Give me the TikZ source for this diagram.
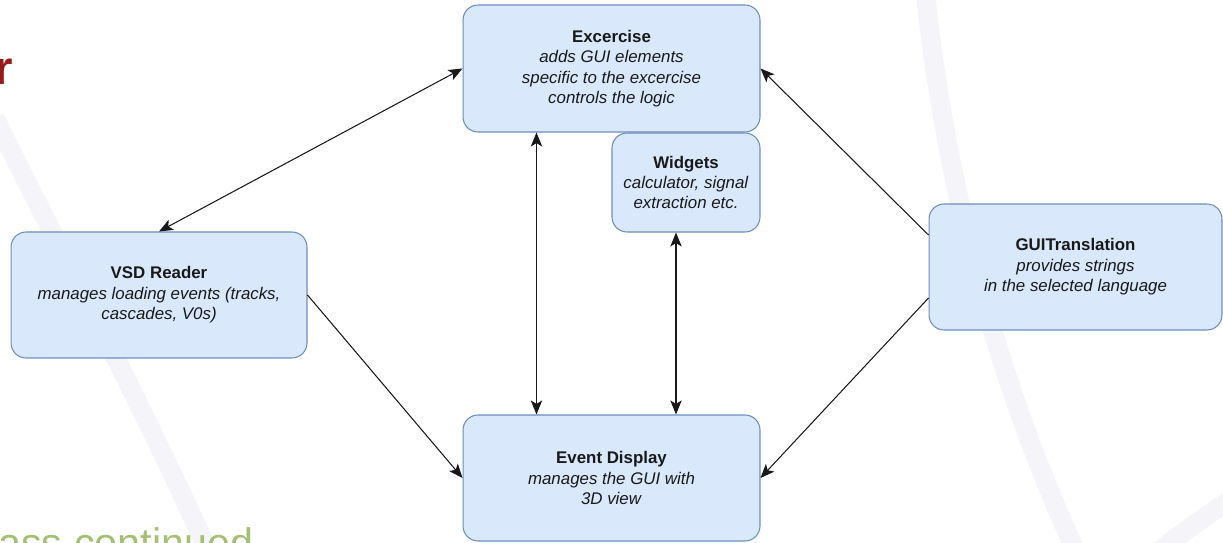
\documentclass[tikz,border=0pt]{standalone}
\usepackage{fontspec}
\setmainfont{Liberation Sans}
\usetikzlibrary{arrows.meta}

\definecolor{boxfill}{HTML}{DAE8FC}
\definecolor{boxline}{HTML}{6C8EBF}
\definecolor{swoosh}{RGB}{245,245,249}
\definecolor{titlered}{RGB}{150,28,28}
\definecolor{subgreen}{RGB}{163,192,115}

\begin{document}
\begin{tikzpicture}[
    x=0.02cm, y=-0.02cm,
    >={Stealth[length=8pt, width=6.5pt, inset=2pt]},
    module/.style={
      draw=boxline, fill=boxfill, line width=0.6pt,
      rounded corners=0.3cm, align=center, inner sep=0pt,
      text=black!90, font=\fontsize{9.6pt}{11.6pt}\selectfont,
    },
    link/.style={line width=0.6pt, black!90},
  ]
    \useasboundingbox (0,0) rectangle (1223,543);
    \clip (0,0) rectangle (1223,543);

    % slide background
    \draw[swoosh, line width=11pt] (-5,118) .. controls (60,250) and (150,420) .. (212,560);
    \draw[swoosh, line width=11pt] (925,-10) .. controls (945,180) and (995,380) .. (1080,560);
    \draw[swoosh, line width=11pt] (1245,490) .. controls (1215,510) and (1185,530) .. (1150,558);
    \node[anchor=base east, inner sep=0pt, text=titlered,
      font=\bfseries\fontsize{27pt}{30pt}\selectfont] (title) at (13,85) {r};
    \node[anchor=base west, inner sep=0pt, text=subgreen,
      font=\fontsize{23.5pt}{28pt}\selectfont] (subtitle) at (-2,557) {ass continued};

    % modules
    \node[module, minimum width=5.94cm, minimum height=2.54cm] (exc) at (611.5,68.5)
      {\textbf{Excercise}\\ \textit{adds GUI elements}\\
       \textit{specific to the excercise}\\ \textit{controls the logic}};
    \node[module, minimum width=2.96cm, minimum height=1.98cm] (wid) at (686,182.5)
      {\textbf{Widgets}\\ \textit{calculator, signal}\\ \textit{extraction etc.}};
    \node[module, minimum width=5.92cm, minimum height=2.52cm] (vsd) at (159,295)
      {\textbf{VSD Reader}\\ \textit{manages loading events (tracks,}\\
       \textit{cascades, V0s)}};
    \node[module, minimum width=5.86cm, minimum height=2.52cm] (gui) at (1075.5,267)
      {\textbf{GUITranslation}\\ \textit{provides strings}\\
       \textit{in the selected language}};
    \node[module, minimum width=5.94cm, minimum height=2.52cm] (ev) at (611.5,478)
      {\textbf{Event Display}\\ \textit{manages the GUI with}\\ \textit{3D view}};

    % connections
    \draw[link, <->] (exc.west) -- (vsd.north);
    \draw[link, <->] ([xshift=1.48cm]exc.south west) -- ([xshift=1.48cm]ev.north west);
    \draw[link, <->] ([xshift=-0.2cm]wid.south) -- ([xshift=-0.2cm]wid.south |- ev.north);
    \draw[link, ->] (vsd.east) -- (ev.west);
    \draw[link, ->] ([yshift=0.64cm]gui.west) -- (exc.east);
    \draw[link, ->] ([yshift=-0.62cm]gui.west) -- (ev.east);
\end{tikzpicture}
\end{document}
